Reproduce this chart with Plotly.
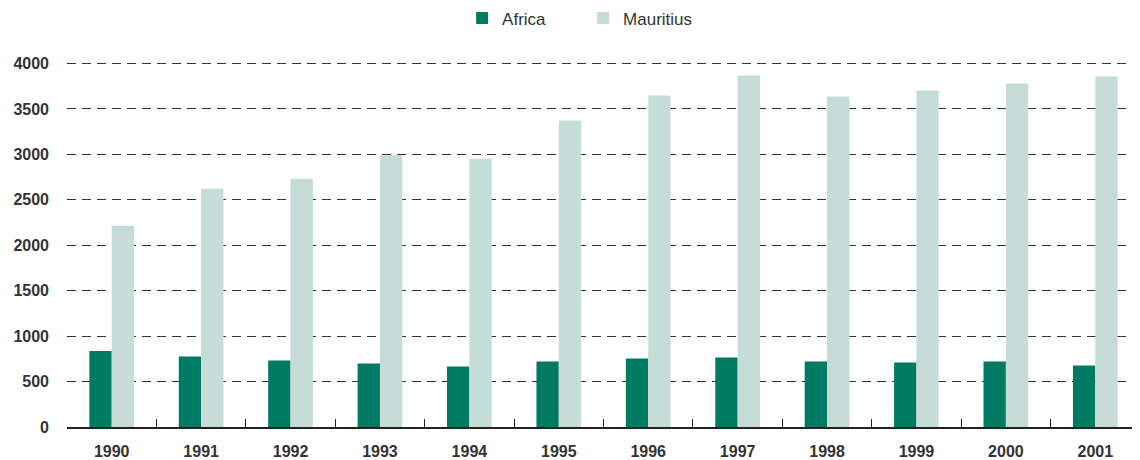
import plotly.graph_objects as go

years = ["1990", "1991", "1992", "1993", "1994", "1995", "1996", "1997", "1998", "1999", "2000", "2001"]
africa = [837, 777, 733, 700, 667, 720, 755, 765, 722, 711, 722, 678]
mauritius = [2215, 2623, 2733, 2990, 2953, 3372, 3647, 3868, 3636, 3702, 3780, 3857]
y_ticks = [0, 500, 1000, 1500, 2000, 2500, 3000, 3500, 4000]

AFRICA_COLOR = "#007b63"
MAURITIUS_COLOR = "#c5ddd6"
TEXT = "#333333"
FONT = "Liberation Sans, Arial, sans-serif"

fig = go.Figure()
fig.add_trace(go.Bar(name="Africa", x=years, y=africa, marker=dict(color=AFRICA_COLOR, line=dict(width=0))))
fig.add_trace(go.Bar(name="Mauritius", x=years, y=mauritius, marker=dict(color=MAURITIUS_COLOR, line=dict(width=0))))

# page body has an 8px default margin, so the figure is 8px smaller than the window
fig.update_layout(
    width=1132, height=452,
    margin=dict(l=59, r=0, t=51, b=33, autoexpand=False),
    paper_bgcolor="white", plot_bgcolor="white",
    barmode="group", bargap=0.5, bargroupgap=0,
    font=dict(family=FONT, color=TEXT),
    legend=dict(orientation="h", x=0.481, xanchor="center", y=1.11, yanchor="middle",
                font=dict(size=17, color=TEXT), entrywidth=76, entrywidthmode="pixels",
                itemclick=False, traceorder="normal"),
    showlegend=True,
)

fig.update_xaxes(
    type="category", showline=True, linecolor="#222222", linewidth=1.5,
    ticks="inside", tickson="boundaries", ticklen=8, tickcolor="#222222", tickwidth=1,
    showgrid=False, tickfont=dict(size=16, color=TEXT, family=FONT, weight="bold"),
    ticklabelstandoff=9, automargin=False,
)
fig.update_yaxes(
    range=[0, 4050], tickvals=y_ticks, showline=False, zeroline=False,
    showgrid=True, gridcolor="#333333", gridwidth=1, griddash="9px,6px",
    tickfont=dict(size=16, color=TEXT, family=FONT, weight="bold"), ticks="", ticklabelstandoff=17,
    automargin=False,
)

fig.write_html("out.html")
